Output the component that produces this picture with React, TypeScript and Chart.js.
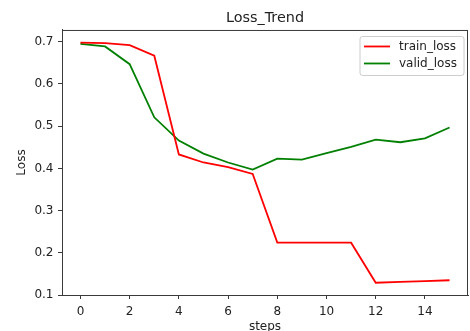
import React, { useEffect, useRef } from 'react';
import { Chart, registerables } from 'chart.js';

Chart.register(...registerables);

const steps = [0, 1, 2, 3, 4, 5, 6, 7, 8, 9, 10, 11, 12, 13, 14, 15];
const trainLoss = [0.698, 0.697, 0.692, 0.667, 0.433, 0.414, 0.403, 0.387, 0.224, 0.224, 0.224, 0.224, 0.129, 0.131, 0.133, 0.135];
const validLoss = [0.695, 0.689, 0.647, 0.521, 0.466, 0.435, 0.414, 0.397, 0.423, 0.421, 0.436, 0.451, 0.468, 0.462, 0.471, 0.497];
const xTicks = [0, 2, 4, 6, 8, 10, 12, 14];
const yTicks = [0.1, 0.2, 0.3, 0.4, 0.5, 0.6, 0.7];
const seriesLabels = ['train_loss', 'valid_loss'];
const seriesColors = ['#ff0000', '#008000'];
const chartTitle = 'Loss_Trend';
const xTitle = 'steps';
const yTitle = 'Loss';

const FONT = '"DejaVu Sans", sans-serif';
const AXIS = '#3a3a3a';
const TEXT = '#222222';

const framePlugin = {
  id: 'frameLegend',
  afterDraw(chart: any) {
    const { ctx, chartArea } = chart;
    const { left, right, top, bottom } = chartArea;
    ctx.save();
    ctx.strokeStyle = AXIS;
    ctx.lineWidth = 1;
    ctx.beginPath();
    ctx.moveTo(left, top + 0.5);
    ctx.lineTo(right, top + 0.5);
    ctx.moveTo(right - 0.5, top);
    ctx.lineTo(right - 0.5, bottom);
    ctx.stroke();

    // legend
    const boxW = 104;
    const boxH = 39;
    const bx = right - 4 - boxW;
    const by = top + 6.5;
    ctx.fillStyle = 'rgba(255,255,255,0.85)';
    ctx.strokeStyle = '#cccccc';
    ctx.lineWidth = 1;
    ctx.beginPath();
    const r = 2.5;
    ctx.moveTo(bx + r, by);
    ctx.lineTo(bx + boxW - r, by);
    ctx.quadraticCurveTo(bx + boxW, by, bx + boxW, by + r);
    ctx.lineTo(bx + boxW, by + boxH - r);
    ctx.quadraticCurveTo(bx + boxW, by + boxH, bx + boxW - r, by + boxH);
    ctx.lineTo(bx + r, by + boxH);
    ctx.quadraticCurveTo(bx, by + boxH, bx, by + boxH - r);
    ctx.lineTo(bx, by + r);
    ctx.quadraticCurveTo(bx, by, bx + r, by);
    ctx.closePath();
    ctx.fill();
    ctx.stroke();

    ctx.font = `12px ${FONT}`;
    ctx.textBaseline = 'middle';
    ctx.textAlign = 'left';
    chart.data.datasets.forEach((ds: any, i: number) => {
      const cy = by + 10 + i * 17;
      ctx.strokeStyle = ds.borderColor;
      ctx.lineWidth = 1.8;
      ctx.beginPath();
      ctx.moveTo(bx + 4, cy);
      ctx.lineTo(bx + 30, cy);
      ctx.stroke();
      ctx.fillStyle = TEXT;
      ctx.fillText(ds.label, bx + 39, cy);
    });
    ctx.restore();
  },
};

export default function App() {
  const canvasRef = useRef<HTMLCanvasElement | null>(null);

  useEffect(() => {
    const canvas = canvasRef.current;
    if (!canvas) return;
    const series = [trainLoss, validLoss];
    const chart = new Chart(canvas, {
      type: 'line',
      data: {
        datasets: series.map((vals, i) => ({
          label: seriesLabels[i],
          data: steps.map((s, j) => ({ x: s, y: vals[j] })),
          borderColor: seriesColors[i],
          backgroundColor: seriesColors[i],
          borderWidth: 1.8,
          pointRadius: 0,
          tension: 0,
          fill: false,
        })),
      },
      options: {
        responsive: false,
        animation: false,
        devicePixelRatio: 1,
        layout: { padding: { left: 0, right: 2, top: 0, bottom: 0 } },
        plugins: {
          legend: { display: false },
          tooltip: { enabled: false },
          title: {
            display: true,
            text: chartTitle,
            fullSize: false,
            color: TEXT,
            font: { family: FONT, size: 14.4, weight: 'normal' },
            padding: { top: 10, bottom: 2.7 },
          },
        },
        scales: {
          x: {
            type: 'linear',
            min: -0.75,
            max: 15.75,
            afterBuildTicks: (s: any) => {
              s.ticks = xTicks.map((v) => ({ value: v }));
            },
            afterFit: (s: any) => {
              s.height = 36;
            },
            grid: { drawOnChartArea: false, drawTicks: true, tickLength: 4, color: AXIS },
            border: { display: true, color: AXIS, width: 1 },
            ticks: {
              color: TEXT,
              font: { family: FONT, size: 12 },
              padding: 6,
              maxRotation: 0,
              autoSkip: false,
              callback: (v: any) => String(v),
            },
            title: {
              display: true,
              text: xTitle,
              color: TEXT,
              font: { family: FONT, size: 12 },
              padding: { top: 0, bottom: -3 },
            },
          },
          y: {
            type: 'linear',
            min: 0.1,
            max: 0.728,
            afterBuildTicks: (s: any) => {
              s.ticks = yTicks.map((v) => ({ value: v }));
            },
            afterFit: (s: any) => {
              s.width = 62;
            },
            grid: { drawOnChartArea: false, drawTicks: true, tickLength: 4, color: AXIS },
            border: { display: true, color: AXIS, width: 1 },
            ticks: {
              color: TEXT,
              font: { family: FONT, size: 12 },
              padding: 4.5,
              autoSkip: false,
              callback: (v: any) => Number(v).toFixed(1),
            },
            title: {
              display: true,
              text: yTitle,
              color: TEXT,
              font: { family: FONT, size: 12 },
              padding: { top: 14.8, bottom: 0 },
            },
          },
        },
      },
      plugins: [framePlugin],
    } as any);
    return () => chart.destroy();
  }, []);

  return (
    <div style={{ position: 'fixed', left: 0, top: 0, width: 470, height: 331, background: '#fff' }}>
      <canvas ref={canvasRef} width={470} height={331} />
    </div>
  );
}
